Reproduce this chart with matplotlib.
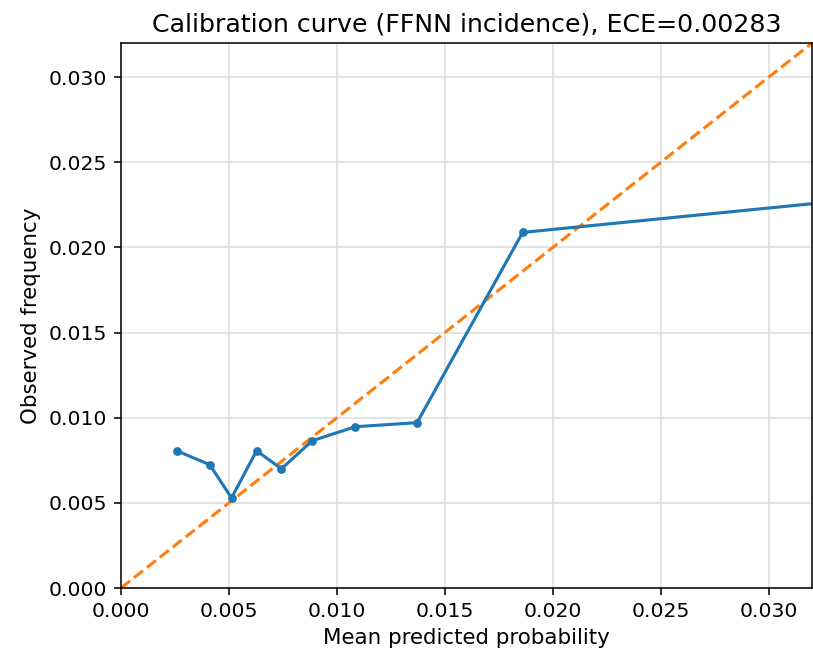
import matplotlib
matplotlib.use("Agg")
import matplotlib.pyplot as plt

# calibration bins (mean predicted prob, observed freq)
mean_pred = [0.00258, 0.00411, 0.00512, 0.00628, 0.00743, 0.00886, 0.01085, 0.01371, 0.0186, 0.045]
obs_freq = [0.00806, 0.00724, 0.00529, 0.00806, 0.00700, 0.00865, 0.00947, 0.00971, 0.02088, 0.0242]
lim = 0.032
ece = 0.00283

dpi = 140
fig = plt.figure(figsize=(813 / dpi, 657 / dpi), dpi=dpi)
ax = fig.add_axes([0.1488, 0.105, 0.8500, 0.8295])

ax.plot([0, lim], [0, lim], "--", color="#ff7f0e", linewidth=1.6)
ax.plot(mean_pred, obs_freq, marker="o", markersize=3.5, color="#1f77b4", linewidth=1.6)

ax.set_xlim(0, lim)
ax.set_ylim(0, lim)
ax.set_xticks([0.0, 0.005, 0.010, 0.015, 0.020, 0.025, 0.030])
ax.set_yticks([0.0, 0.005, 0.010, 0.015, 0.020, 0.025, 0.030])
ax.tick_params(labelsize=10.5)
ax.grid(True, color="#dddddd", linewidth=0.8)
ax.set_axisbelow(True)

ax.set_xlabel("Mean predicted probability", fontsize=11)
ax.set_ylabel("Observed frequency", fontsize=11)
ax.set_title(f"Calibration curve (FFNN incidence), ECE={ece:.5f}", fontsize=13)

fig.savefig("out.png", dpi=dpi)
